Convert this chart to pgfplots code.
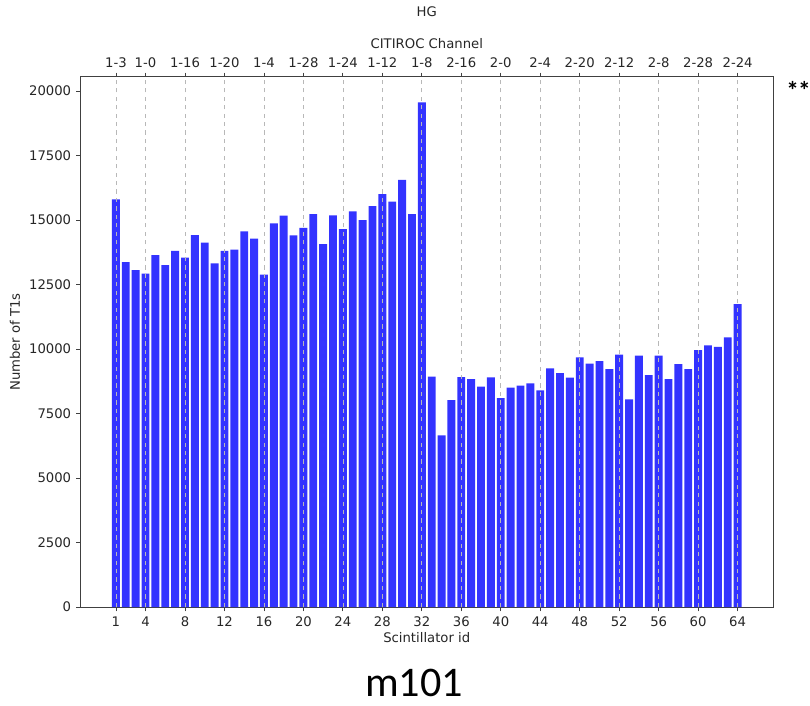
\documentclass[border=0pt]{standalone}
\usepackage{pgfplots}
\pgfplotsset{compat=1.18}
\usepackage{fontspec}
\setmainfont{DejaVu Sans}
\newfontfamily\calibri{Carlito}
\definecolor{barblue}{RGB}{51,51,255}
\begin{document}
\begin{tikzpicture}[x=0.25mm,y=0.25mm]
\path[use as bounding box] (0,0) rectangle (810,705);
\begin{axis}[
  at={(20.125mm,24.5mm)}, anchor=south west,
  scale only axis, width=173.125mm, height=132.5mm,
  xmin=-2.59, xmax=67.59, ymin=0, ymax=20550,
  xtick={1,4,8,12,16,20,24,28,32,36,40,44,48,52,56,60,64},
  ytick={0,2500,5000,7500,10000,12500,15000,17500,20000},
  xtick pos=bottom, ytick pos=left,
  tick align=outside, major tick length=1.1mm,
  tick style={black!75, line width=0.2mm},
  axis line style={black!75, line width=0.25mm},
  /pgf/number format/assume math mode=true,
  /pgf/number format/set thousands separator={},
  scaled y ticks=false,
  tick label style={font=\fontsize{9.4}{11}\selectfont, text=black!85},
  ybar, bar width=0.8,
]
\addplot[fill=barblue, draw=none] table {
x y
1 15800
2 13370
3 13060
4 12930
5 13640
6 13260
7 13810
8 13550
9 14420
10 14130
11 13320
12 13810
13 13860
14 14560
15 14280
16 12890
17 14870
18 15170
19 14410
20 14700
21 15230
22 14070
23 15180
24 14650
25 15340
26 15000
27 15540
28 16010
29 15720
30 16560
31 15230
32 19570
33 8930
34 6650
35 8020
36 8910
37 8840
38 8540
39 8900
40 8100
41 8510
42 8580
43 8670
44 8400
45 9250
46 9070
47 8890
48 9680
49 9440
50 9530
51 9220
52 9790
53 8050
54 9750
55 8990
56 9750
57 8840
58 9420
59 9220
60 9960
61 10140
62 10090
63 10450
64 11740
};
\end{axis}
\begin{axis}[
  at={(20.125mm,24.5mm)}, anchor=south west,
  scale only axis, width=173.125mm, height=132.5mm,
  xmin=-2.59, xmax=67.59, ymin=0, ymax=20550,
  axis x line*=top, axis y line=none,
  xtick={1,4,8,12,16,20,24,28,32,36,40,44,48,52,56,60,64},
  xticklabels={1-3,1-0,1-16,1-20,1-4,1-28,1-24,1-12,1-8,2-16,2-0,2-4,2-20,2-12,2-8,2-28,2-24},
  tick align=outside, major tick length=1.1mm,
  tick style={black!75, line width=0.2mm},
  axis line style={black!75, line width=0.25mm},
  xmajorgrids, grid style={dashed, black!28, line width=0.18mm},
  tick label style={font=\fontsize{9.4}{11}\selectfont, text=black!85},
]
\addplot[draw=none, forget plot] coordinates {(1,0)};
\end{axis}
\begin{scope}[every node/.style={font=\fontsize{9.4}{11}\selectfont, text=black!85}]
\node at (426.75,693.3) {HG};
\node at (426.75,661) {CITIROC Channel};
\node at (426.75,67) {Scintillator id};
\node[rotate=90] at (15,363) {Number of T1s};
\end{scope}
\node[font=\calibri\fontsize{30}{34}\selectfont, inner sep=0pt] at (414,22) {m101};
\node[font=\calibri\bfseries\fontsize{18}{22}\selectfont, anchor=west, inner sep=0pt] at (786,615) {*\kern-0.5pt*};
\end{tikzpicture}
\end{document}
